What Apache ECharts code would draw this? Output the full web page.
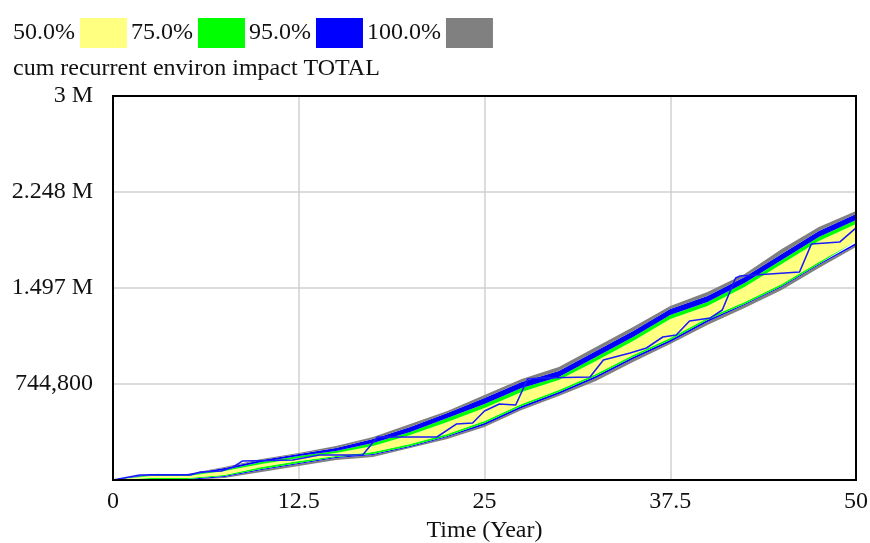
<!DOCTYPE html>
<html>
<head>
<meta charset="utf-8">
<script src="https://cdn.jsdelivr.net/npm/echarts@6/dist/echarts.min.js"></script>
<style>
  html, body { margin: 0; padding: 0; background: #fff; }
  #main { width: 870px; height: 543px; }
</style>
</head>
<body>
<div id="main"></div>
<script>
// sensitivity bands (time in years)
const bandTime = [0, 2.5, 5, 7.5, 10, 12.5, 15, 17.5, 20, 22.5, 25, 27.5, 30, 32.5, 35, 37.5, 40, 42.5, 45, 47.5, 50];
const max100 = [0, 47000, 47000, 102000, 164000, 211000, 266000, 336000, 438000, 539000, 664000, 789000, 883000, 1039000, 1195000, 1359000, 1469000, 1609000, 1805000, 1977000, 2102000];
const up95 = [0, 47000, 47000, 94000, 156000, 203000, 250000, 320000, 414000, 523000, 641000, 766000, 852000, 1008000, 1164000, 1336000, 1438000, 1586000, 1766000, 1945000, 2078000];
const up75 = [0, 39000, 39000, 78000, 141000, 188000, 227000, 289000, 375000, 484000, 594000, 719000, 805000, 961000, 1117000, 1289000, 1391000, 1539000, 1719000, 1898000, 2031000];
const up50 = [0, 31000, 31000, 70000, 125000, 172000, 211000, 266000, 352000, 453000, 563000, 688000, 781000, 930000, 1086000, 1258000, 1359000, 1508000, 1688000, 1867000, 2000000];
const lo50 = [0, 16000, 16000, 39000, 102000, 148000, 188000, 219000, 281000, 359000, 461000, 594000, 703000, 828000, 977000, 1109000, 1266000, 1391000, 1531000, 1703000, 1867000];
const lo75 = [0, 8000, 8000, 31000, 86000, 133000, 180000, 203000, 266000, 344000, 445000, 578000, 688000, 813000, 961000, 1094000, 1250000, 1375000, 1516000, 1688000, 1852000];
const lo95 = [0, 0, 0, 23000, 78000, 125000, 172000, 195000, 258000, 336000, 430000, 563000, 672000, 797000, 945000, 1078000, 1234000, 1367000, 1508000, 1680000, 1836000];
const min100 = [0, 0, 0, 16000, 63000, 109000, 156000, 180000, 250000, 320000, 414000, 547000, 656000, 773000, 922000, 1063000, 1211000, 1344000, 1484000, 1656000, 1820000];

// single run drawn as thin blue line
const runTime = [0, 1.8, 5.2, 5.9, 7.3, 8.1, 8.7, 12.1, 13.9, 16.8, 17.8, 21.8, 23.1, 24.2, 25, 26, 27.1, 27.9, 28.7, 32.1, 33, 34.8, 35.9, 37, 37.9, 38.8, 40.2, 41, 41.9, 42.2, 46.2, 47, 48.9, 50];
const runValue = [0, 39000, 39000, 62000, 70000, 102000, 148000, 156000, 195000, 195000, 336000, 336000, 437000, 445000, 539000, 594000, 586000, 789000, 797000, 805000, 938000, 992000, 1031000, 1117000, 1133000, 1242000, 1266000, 1328000, 1578000, 1594000, 1625000, 1844000, 1859000, 1969000];

const yTickLabels = ['', '744,800', '1.497 M', '2.248 M', '3 M'];
const legendNames = ['50.0%', '75.0%', '95.0%', '100.0%'];
const legendColors = ['#ffff80', '#00ff00', '#0000ff', '#808080'];

const font = 'Liberation Serif';
const colorOf = {};
legendNames.forEach((n, i) => { colorOf[n] = legendColors[i]; });

// stacked pieces, bottom to top
const layers = [
  ['100.0%', min100, lo95],
  ['95.0%', lo95, lo75],
  ['75.0%', lo75, lo50],
  ['50.0%', lo50, up50],
  ['75.0%', up50, up75],
  ['95.0%', up75, up95],
  ['100.0%', up95, max100]
];

// value first, time second, so the stack runs on the y value
const series = [{
  name: 'base',
  type: 'line',
  stack: 'band',
  showSymbol: false,
  silent: true,
  encode: { x: 1, y: 0 },
  lineStyle: { width: 0, opacity: 0 },
  data: bandTime.map((t, i) => [min100[i], t])
}];
layers.forEach(([name, lo, hi]) => {
  series.push({
    name: name,
    type: 'line',
    stack: 'band',
    showSymbol: false,
    silent: true,
    encode: { x: 1, y: 0 },
    itemStyle: { color: colorOf[name] },
    lineStyle: { width: 0, opacity: 0 },
    areaStyle: { color: colorOf[name], opacity: 1 },
    data: bandTime.map((t, i) => [hi[i] - lo[i], t])
  });
});
series.push({
  name: 'run',
  type: 'line',
  showSymbol: false,
  silent: true,
  z: 5,
  lineStyle: { color: '#1a1aff', width: 1.6 },
  data: runTime.map((t, i) => [t, runValue[i]])
});

const chart = echarts.init(document.getElementById('main'));
chart.setOption({
  animation: false,
  backgroundColor: '#fff',
  title: {
    text: 'cum recurrent environ impact TOTAL',
    left: 8,
    top: 52,
    textStyle: { fontFamily: font, fontSize: 24, fontWeight: 'normal', color: '#111' }
  },
  legend: {
    left: 8,
    top: 13,
    align: 'right',
    icon: 'rect',
    itemWidth: 47,
    itemHeight: 30,
    itemGap: 4,
    selectedMode: false,
    textStyle: { fontFamily: font, fontSize: 24, color: '#111' },
    data: legendNames.map((n, i) => ({ name: n, itemStyle: { color: legendColors[i] } }))
  },
  grid: {
    left: 113,
    right: 14,
    top: 96,
    bottom: 63,
    outerBoundsMode: 'none',
    show: true,
    z: 10,
    borderColor: '#000',
    borderWidth: 2
  },
  xAxis: {
    type: 'value',
    min: 0,
    max: 50,
    interval: 12.5,
    name: 'Time (Year)',
    nameLocation: 'middle',
    nameGap: 38,
    nameTextStyle: { fontFamily: font, fontSize: 24, color: '#111' },
    axisLine: { show: true, lineStyle: { color: '#000', width: 2 } },
    axisTick: { show: false },
    axisLabel: { fontFamily: font, fontSize: 24, color: '#111', margin: 10 },
    splitLine: { show: true, showMinLine: false, showMaxLine: false, lineStyle: { color: '#d0d0d0', width: 1.5 } }
  },
  yAxis: {
    type: 'value',
    min: 0,
    max: 3000000,
    interval: 750000,
    axisLine: { show: true, lineStyle: { color: '#000', width: 2 } },
    axisTick: { show: false },
    axisLabel: {
      fontFamily: font, fontSize: 24, color: '#111', margin: 20,
      formatter: v => yTickLabels[Math.round(v / 750000)]
    },
    splitLine: { show: true, showMinLine: false, showMaxLine: false, lineStyle: { color: '#d0d0d0', width: 1.5 } }
  },
  series: series
});
</script>
</body>
</html>
